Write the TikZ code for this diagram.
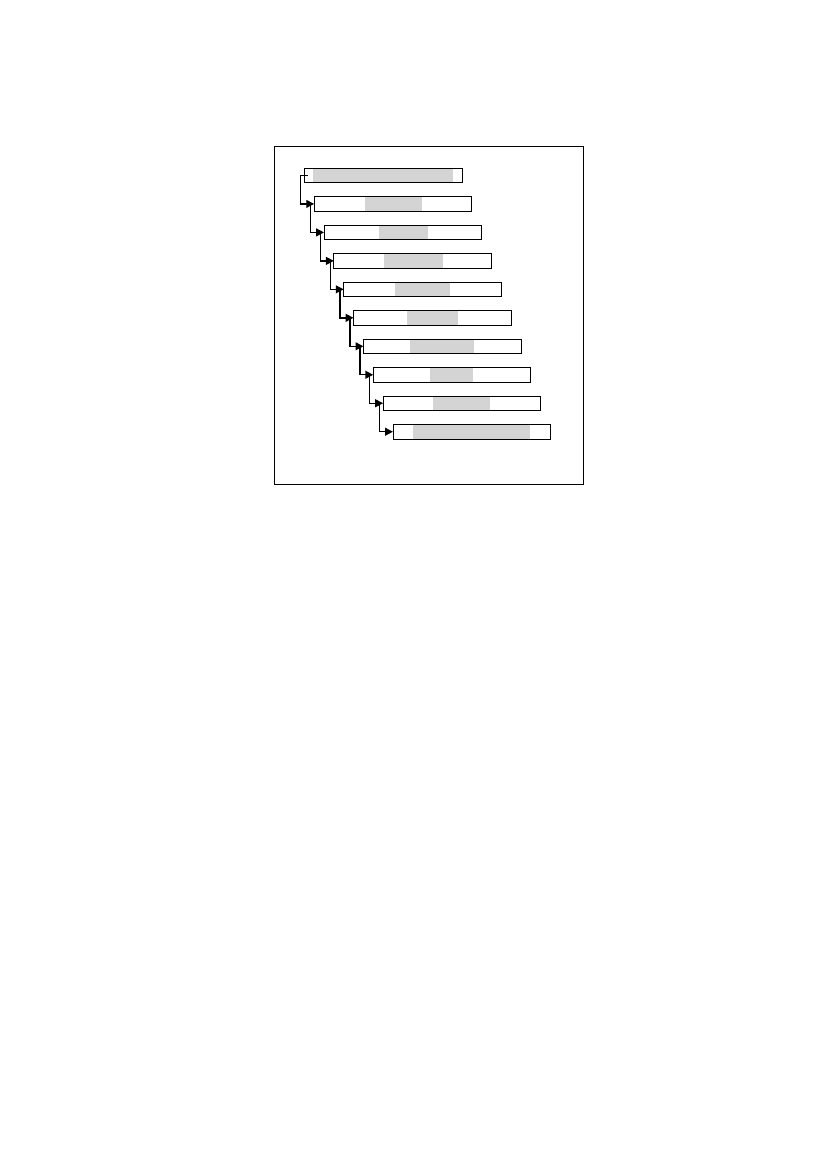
\documentclass[tikz,border=0pt]{standalone}
\usepackage{tikz}
\usetikzlibrary{arrows.meta,positioning}

\begin{document}
\begin{tikzpicture}[x=0.2539mm,y=-0.2539mm,>={Triangle[length=2mm,width=2mm]},
	bar/.style 2 args={rectangle,draw,line width=0.5pt,outer sep=0pt,minimum width=40mm,minimum height=3.63mm,inner sep=0pt,
		path picture={\fill[barfill] ([xshift=#1]path picture bounding box.south west) rectangle ([xshift=#2]path picture bounding box.north west);}},
	link/.style={->,line width=1pt}]
	\definecolor{barfill}{gray}{0.83}
	\useasboundingbox (0,0) rectangle (827,1169);
	\draw[line width=0.6pt] (274,146) rectangle (583,484.5);

	\node[bar={2.1mm}{37.8mm}, anchor=north west] (b1) at (304.3,168.3) {};
	\node[bar={12.8mm}{27.3mm}] (b2) [below right=3.6mm and 2.5mm of b1.south west] {};
	\node[bar={13.9mm}{26.3mm}] (b3) [below right=3.6mm and 2.5mm of b2.south west] {};
	\node[bar={12.7mm}{27.8mm}] (b4) [below right=3.6mm and 2.5mm of b3.south west] {};
	\node[bar={13.1mm}{27.1mm}] (b5) [below right=3.6mm and 2.5mm of b4.south west] {};
	\node[bar={13.6mm}{26.5mm}] (b6) [below right=3.6mm and 2.5mm of b5.south west] {};
	\node[bar={11.8mm}{28.1mm}] (b7) [below right=3.6mm and 2.5mm of b6.south west] {};
	\node[bar={14.5mm}{25.3mm}] (b8) [below right=3.6mm and 2.5mm of b7.south west] {};
	\node[bar={12.6mm}{27.2mm}] (b9) [below right=3.6mm and 2.5mm of b8.south west] {};
	\node[bar={5.2mm}{34.9mm}] (b10) [below right=3.6mm and 2.5mm of b9.south west] {};

	\draw[line width=0.5pt] ([xshift=1mm]b1.west) -- ([xshift=-0.9mm]b1.west);
	\draw[link] ([xshift=-0.9mm]b1.west) |- (b2.west);
	\draw[link] ([xshift=-0.9mm]b2.west) |- (b3.west);
	\draw[link] ([xshift=-0.9mm]b3.west) |- (b4.west);
	\draw[link] ([xshift=-0.9mm]b4.west) |- (b5.west);
	\draw[link] ([xshift=-0.9mm]b5.west) |- (b6.west);
	\draw[link] ([xshift=-0.9mm]b6.west) |- (b7.west);
	\draw[link] ([xshift=-0.9mm]b7.west) |- (b8.west);
	\draw[link] ([xshift=-0.9mm]b8.west) |- (b9.west);
	\draw[link] ([xshift=-0.9mm]b9.west) |- (b10.west);
\end{tikzpicture}
\end{document}
